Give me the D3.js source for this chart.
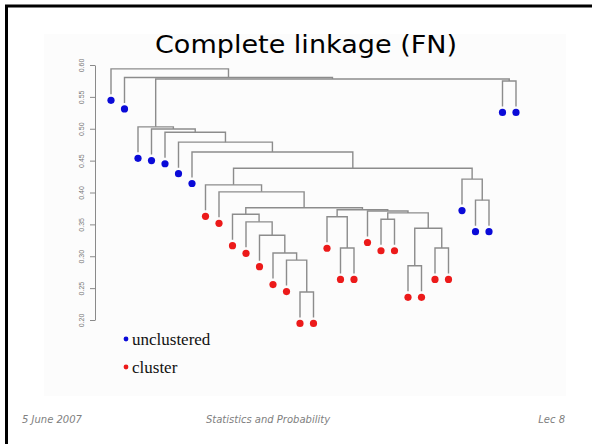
<!DOCTYPE html>
<html><head><meta charset="utf-8">
<script src="https://cdn.jsdelivr.net/npm/d3@7"></script>
<style>body{margin:0;background:#fff;overflow:hidden}</style>
</head><body>
<script>
// ---- data ----
const title = "Complete linkage (FN)";
const footerLabels = ["5 June 2007", "Statistics and Probability", "Lec 8"];
const legendLabels = ["unclustered", "cluster"];
const yTicks = [0.20, 0.25, 0.30, 0.35, 0.40, 0.45, 0.50, 0.55, 0.60];
// leaves in display order (1..31)
const leafClass = [
  "unclustered","unclustered","unclustered","unclustered","unclustered","unclustered","unclustered",
  "cluster","cluster","cluster","cluster","cluster","cluster","cluster","cluster","cluster",
  "cluster","cluster","cluster","cluster","cluster","cluster","cluster","cluster","cluster","cluster",
  "unclustered","unclustered","unclustered","unclustered","unclustered"
];
// merge table (R hclust style: negative = leaf number, positive = earlier merge row)
const mergeLeft  = [-15,-14,-13,-12,-11,-10,-18,-17,-21,-23,-25,10, 9,-20, 8, 6,-9,-8,-28,-27,18,-7,-6,-5,-4,-3,-30,26,-2,-1];
const mergeRight = [-16,  1,  2,  3,  4,  5,-19,  7,-22,-24,-26,11,12, 13,14,15,16,17,-29, 19,20,21,22,23,24,25,-31,27,28,29];
const mergeHeight = [0.244,0.294,0.305,0.333,0.354,0.366,0.313,0.362,0.358,0.285,0.313,0.344,0.368,0.371,0.373,0.376,
                     0.401,0.412,0.388,0.421,0.438,0.4635,0.479,0.4945,0.4995,0.503,0.575,0.578,0.5805,0.594];
const hang = 0.040;

// ---- layout ----
const W = 592, H = 444;
const svg = d3.select("body").append("svg").attr("width", W).attr("height", H);

// slide frame
svg.append("rect").attr("x", 44).attr("y", 34).attr("width", 522).attr("height", 362).attr("fill", "#fcfcfc");
svg.append("line").attr("x1", 6.5).attr("x2", 6.5).attr("y1", 5).attr("y2", H).attr("stroke", "#000").attr("stroke-width", 3);
svg.append("line").attr("x1", 5).attr("x2", W).attr("y1", 6).attr("y2", 6).attr("stroke", "#000").attr("stroke-width", 3);

svg.append("text").attr("x", 306).attr("y", 53).attr("text-anchor", "middle")
  .attr("font-family", "DejaVu Sans").attr("font-size", 24).attr("fill", "#000")
  .attr("textLength", 302).attr("lengthAdjust", "spacingAndGlyphs").text(title);

const y = d3.scaleLinear().domain([0.20, 0.60]).range([320, 65]);
const leafIds = d3.range(1, leafClass.length + 1);
const x = d3.scalePoint().domain(leafIds).range([111, 516]);
const color = d3.scaleOrdinal().domain(legendLabels).range(["#0a0ad8", "#ec1a1a"]);

// axis
const axis = d3.axisLeft(y).tickValues(yTicks).tickFormat(d3.format(".2f")).tickSize(5).tickSizeOuter(0);
const gA = svg.append("g").attr("transform", "translate(95,0)").call(axis);
gA.select(".domain").attr("stroke", "#8a8a8a");
gA.selectAll(".tick line").attr("stroke", "#8a8a8a");
gA.selectAll(".tick text")
  .attr("font-family", "Liberation Sans").attr("font-size", 7).attr("fill", "#777")
  .attr("x", 0).attr("y", 0).attr("dy", "0.35em").attr("text-anchor", "middle")
  .attr("transform", "translate(-13,0) rotate(-90)");

// dendrogram
const nodeX = [], nodeH = [];
function cx(id) { return id < 0 ? x(-id) : nodeX[id - 1]; }
const gD = svg.append("g");
mergeLeft.forEach((l, i) => {
  const r = mergeRight[i], h = mergeHeight[i];
  const xl = cx(l), xr = cx(r);
  nodeX[i] = (xl + xr) / 2; nodeH[i] = h;
  const endL = l < 0 ? y(h - hang) : y(nodeH[l - 1]);
  const endR = r < 0 ? y(h - hang) : y(nodeH[r - 1]);
  gD.append("path").attr("d", `M${xl},${endL}V${y(h)}H${xr}V${endR}`)
    .attr("fill", "none").attr("stroke", "#8c8c8c").attr("stroke-width", 1.4);
  [l, r].forEach(c => {
    if (c < 0) {
      gD.append("circle").attr("cx", x(-c)).attr("cy", y(h - hang) + 6).attr("r", 3.6)
        .attr("fill", color(leafClass[-c - 1]));
    }
  });
});

// legend
legendLabels.forEach((lab, i) => {
  const ly = 339 + i * 28;
  svg.append("circle").attr("cx", 126).attr("cy", ly).attr("r", 2.4).attr("fill", color(lab));
  svg.append("text").attr("x", 132).attr("y", ly + 6).attr("font-family", "Liberation Serif")
    .attr("font-size", 17).attr("fill", "#111").text(lab);
});

// footer
const fx = [22, 268, 565], anchors = ["start", "middle", "end"];
footerLabels.forEach((t, i) => {
  svg.append("text").attr("x", fx[i]).attr("y", 423).attr("text-anchor", anchors[i])
    .attr("font-family", "DejaVu Sans").attr("font-style", "italic").attr("font-size", 10)
    .attr("fill", "#808080").text(t);
});
</script>
</body></html>
